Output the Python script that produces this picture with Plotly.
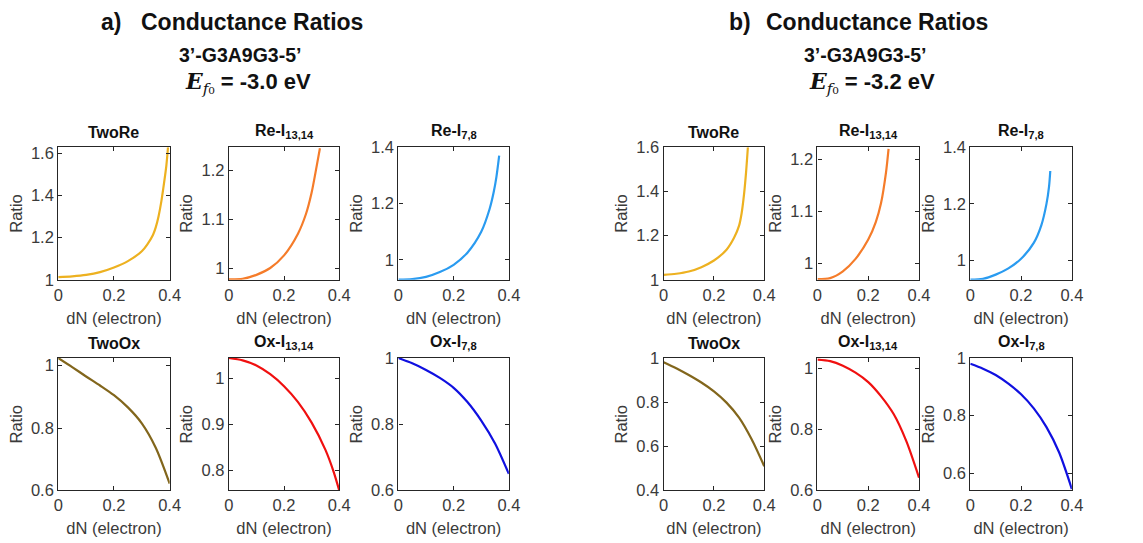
import plotly.graph_objects as go

# ---------------- data ----------------
# panel a (E_f0 = -3.0 eV)
a_twore_x = [0, 0.05, 0.1, 0.15, 0.2, 0.25, 0.3, 0.32, 0.34, 0.35, 0.36, 0.37, 0.38, 0.388, 0.394]
a_twore_y = [1.012, 1.016, 1.023, 1.036, 1.058, 1.088, 1.135, 1.168, 1.212, 1.248, 1.30, 1.37, 1.46, 1.54, 1.628]

a_re13_x = [0, 0.05, 0.1, 0.15, 0.2, 0.25, 0.28, 0.3, 0.32, 0.33]
a_re13_y = [0.977, 0.978, 0.986, 1.0, 1.026, 1.07, 1.112, 1.155, 1.215, 1.246]

a_re78_x = [0, 0.05, 0.1, 0.15, 0.2, 0.25, 0.3, 0.33, 0.345, 0.355, 0.365]
a_re78_y = [0.93, 0.932, 0.94, 0.957, 0.983, 1.026, 1.1, 1.18, 1.24, 1.295, 1.37]

a_twoox_x = [0, 0.05, 0.1, 0.15, 0.2, 0.25, 0.3, 0.35, 0.4]
a_twoox_y = [1.024, 0.995, 0.965, 0.936, 0.905, 0.866, 0.815, 0.737, 0.622]

a_ox13_x = [0, 0.05, 0.1, 0.15, 0.2, 0.25, 0.3, 0.35, 0.38, 0.4]
a_ox13_y = [1.044, 1.039, 1.028, 1.009, 0.983, 0.949, 0.904, 0.845, 0.797, 0.757]

a_ox78_x = [0, 0.05, 0.1, 0.15, 0.2, 0.25, 0.3, 0.35, 0.4]
a_ox78_y = [1.0, 0.984, 0.964, 0.94, 0.91, 0.867, 0.811, 0.742, 0.65]

# panel b (E_f0 = -3.2 eV)
b_twore_x = [0, 0.05, 0.1, 0.15, 0.2, 0.25, 0.28, 0.3, 0.31, 0.32, 0.328, 0.335]
b_twore_y = [1.022, 1.027, 1.037, 1.057, 1.087, 1.136, 1.19, 1.245, 1.3, 1.39, 1.49, 1.6]

b_re13_x = [0, 0.05, 0.1, 0.15, 0.2, 0.23, 0.25, 0.27, 0.28]
b_re13_y = [0.97, 0.972, 0.985, 1.009, 1.046, 1.08, 1.115, 1.175, 1.22]

b_re78_x = [0, 0.05, 0.1, 0.15, 0.2, 0.25, 0.28, 0.3, 0.31, 0.315]
b_re78_y = [0.932, 0.935, 0.95, 0.972, 1.006, 1.062, 1.125, 1.2, 1.26, 1.316]

b_twoox_x = [0, 0.05, 0.1, 0.15, 0.2, 0.25, 0.3, 0.35, 0.4]
b_twoox_y = [0.981, 0.954, 0.923, 0.889, 0.849, 0.798, 0.73, 0.632, 0.51]

b_ox13_x = [0, 0.05, 0.1, 0.15, 0.2, 0.25, 0.3, 0.35, 0.4]
b_ox13_y = [1.03, 1.025, 1.01, 0.987, 0.956, 0.91, 0.851, 0.762, 0.642]

b_ox78_x = [0, 0.05, 0.1, 0.15, 0.2, 0.25, 0.3, 0.35, 0.4]
b_ox78_y = [0.98, 0.963, 0.941, 0.911, 0.874, 0.825, 0.76, 0.672, 0.545]

titles = ["TwoRe", "Re-I<sub>13,14</sub>", "Re-I<sub>7,8</sub>",
          "TwoOx", "Ox-I<sub>13,14</sub>", "Ox-I<sub>7,8</sub>"]
colors = ["#EDB120", "#F57C2A", "#2A9BF0", "#82661C", "#F01010", "#1010E0"]

x_ticks = [0, 0.2, 0.4]
x_ticktext = ["0", "0.2", "0.4"]

a_yranges = [[1, 1.628], [0.976, 1.248], [0.93, 1.4], [0.6, 1.024], [0.757, 1.044], [0.6, 1.0]]
b_yranges = [[1, 1.6], [0.969, 1.223], [0.932, 1.4], [0.4, 1.0], [0.6, 1.035], [0.54, 1.0]]
a_yticks = [[1, 1.2, 1.4, 1.6], [1, 1.1, 1.2], [1, 1.2, 1.4], [0.6, 0.8, 1], [0.8, 0.9, 1], [0.6, 0.8, 1]]
b_yticks = [[1, 1.2, 1.4, 1.6], [1, 1.1, 1.2], [1, 1.2, 1.4], [0.4, 0.6, 0.8, 1], [0.6, 0.8, 1], [0.6, 0.8, 1]]

panel_a = [(a_twore_x, a_twore_y), (a_re13_x, a_re13_y), (a_re78_x, a_re78_y),
           (a_twoox_x, a_twoox_y), (a_ox13_x, a_ox13_y), (a_ox78_x, a_ox78_y)]
panel_b = [(b_twore_x, b_twore_y), (b_re13_x, b_re13_y), (b_re78_x, b_re78_y),
           (b_twoox_x, b_twoox_y), (b_ox13_x, b_ox13_y), (b_ox78_x, b_ox78_y)]

# ---------------- layout geometry (pixels) ----------------
W, H = 1143, 543
a_cols = [(54, 167), (227, 339), (399, 511)]
b_cols = [(668, 770), (824, 927), (979, 1082)]
rows = [(143, 280), (361, 498)]


def fmt(v):
    return ("%.2f" % v).rstrip("0").rstrip(".")


fig = go.Figure()
font_fam = "Liberation Sans, Arial, sans-serif"
axis_col = "#262626"
lab_col = "#3a3a3a"

layout_axes = {}
annotations = []
idx = 0
for panel, cols, yranges, yticks in [(panel_a, a_cols, a_yranges, a_yticks),
                                      (panel_b, b_cols, b_yranges, b_yticks)]:
    for k in range(6):
        idx += 1
        r, c = divmod(k, 3)
        x0, x1 = cols[c]
        y0, y1 = rows[r]
        xs, ys = panel[k]
        xa = "x" if idx == 1 else f"x{idx}"
        ya = "y" if idx == 1 else f"y{idx}"
        fig.add_trace(go.Scatter(x=xs, y=ys, mode="lines", xaxis=xa, yaxis=ya,
                                 line=dict(color=colors[k], width=2.2, shape="spline", smoothing=0.8),
                                 showlegend=False, hoverinfo="x+y", cliponaxis=True))
        common = dict(showline=True, linecolor=axis_col, linewidth=1.2, mirror="allticks",
                      ticks="inside", ticklen=4, tickcolor=axis_col, showgrid=False, zeroline=False,
                      tickfont=dict(family=font_fam, size=16.5, color=lab_col))
        xkey = "xaxis" if idx == 1 else f"xaxis{idx}"
        ykey = "yaxis" if idx == 1 else f"yaxis{idx}"
        layout_axes[xkey] = dict(domain=[x0 / W, x1 / W], anchor=ya, range=[0, 0.4],
                                 tickvals=x_ticks, ticktext=x_ticktext,
                                 title=dict(text="dN (electron)", standoff=9,
                                            font=dict(family=font_fam, size=16.5, color=lab_col)),
                                 **common)
        layout_axes[ykey] = dict(domain=[1 - y1 / H, 1 - y0 / H], anchor=xa, range=yranges[k],
                                 tickvals=yticks[k], ticktext=[fmt(v) for v in yticks[k]],
                                 title=dict(text="Ratio", standoff=4,
                                            font=dict(family=font_fam, size=16.5, color=lab_col)),
                                 **common)
        annotations.append(dict(text="<b>" + titles[k] + "</b>", x=(x0 + x1) / 2 / W,
                                y=1 - (y0 - 4) / H, xref="paper", yref="paper",
                                xanchor="center", yanchor="bottom", showarrow=False,
                                font=dict(family=font_fam, size=16, color="#111111")))

# main titles
ef = '<span style="font-family:DejaVu Serif"><b><i>E</i></b><sub><i>f</i>₀</sub></span>'
for label, lx, c1, c2, c3, val in [("a)", 95, 251, 238, 246, "-3.0"),
                                   ("b)", 732, 884, 872, 879, "-3.2")]:
    annotations.append(dict(text="<b>" + label + "</b>", x=lx / W, y=1 - 13 / H, xref="paper", yref="paper",
                            xanchor="left", yanchor="middle", showarrow=False,
                            font=dict(family=font_fam, size=23, color="#111111")))
    annotations.append(dict(text="<b>Conductance Ratios</b>", x=c1 / W, y=1 - 13 / H,
                            xref="paper", yref="paper", xanchor="center", yanchor="middle",
                            showarrow=False, font=dict(family=font_fam, size=23, color="#111111")))
    annotations.append(dict(text="<b>3’-G3A9G3-5’</b>", x=c2 / W, y=1 - 48 / H,
                            xref="paper", yref="paper", xanchor="center", yanchor="middle",
                            showarrow=False, font=dict(family=font_fam, size=19.5, color="#111111")))
    annotations.append(dict(text=ef + "<b> = " + val + " eV</b>", x=c3 / W, y=1 - 77 / H,
                            xref="paper", yref="paper", xanchor="center", yanchor="middle",
                            showarrow=False, font=dict(family=font_fam, size=22, color="#111111")))

fig.update_layout(width=W, height=H, margin=dict(l=0, r=0, t=0, b=0),
                  paper_bgcolor="white", plot_bgcolor="white",
                  annotations=annotations, **layout_axes)

fig.write_html("out.html", config={"displayModeBar": False},
               post_script="document.body.style.margin='0';document.body.style.overflow='hidden';")
